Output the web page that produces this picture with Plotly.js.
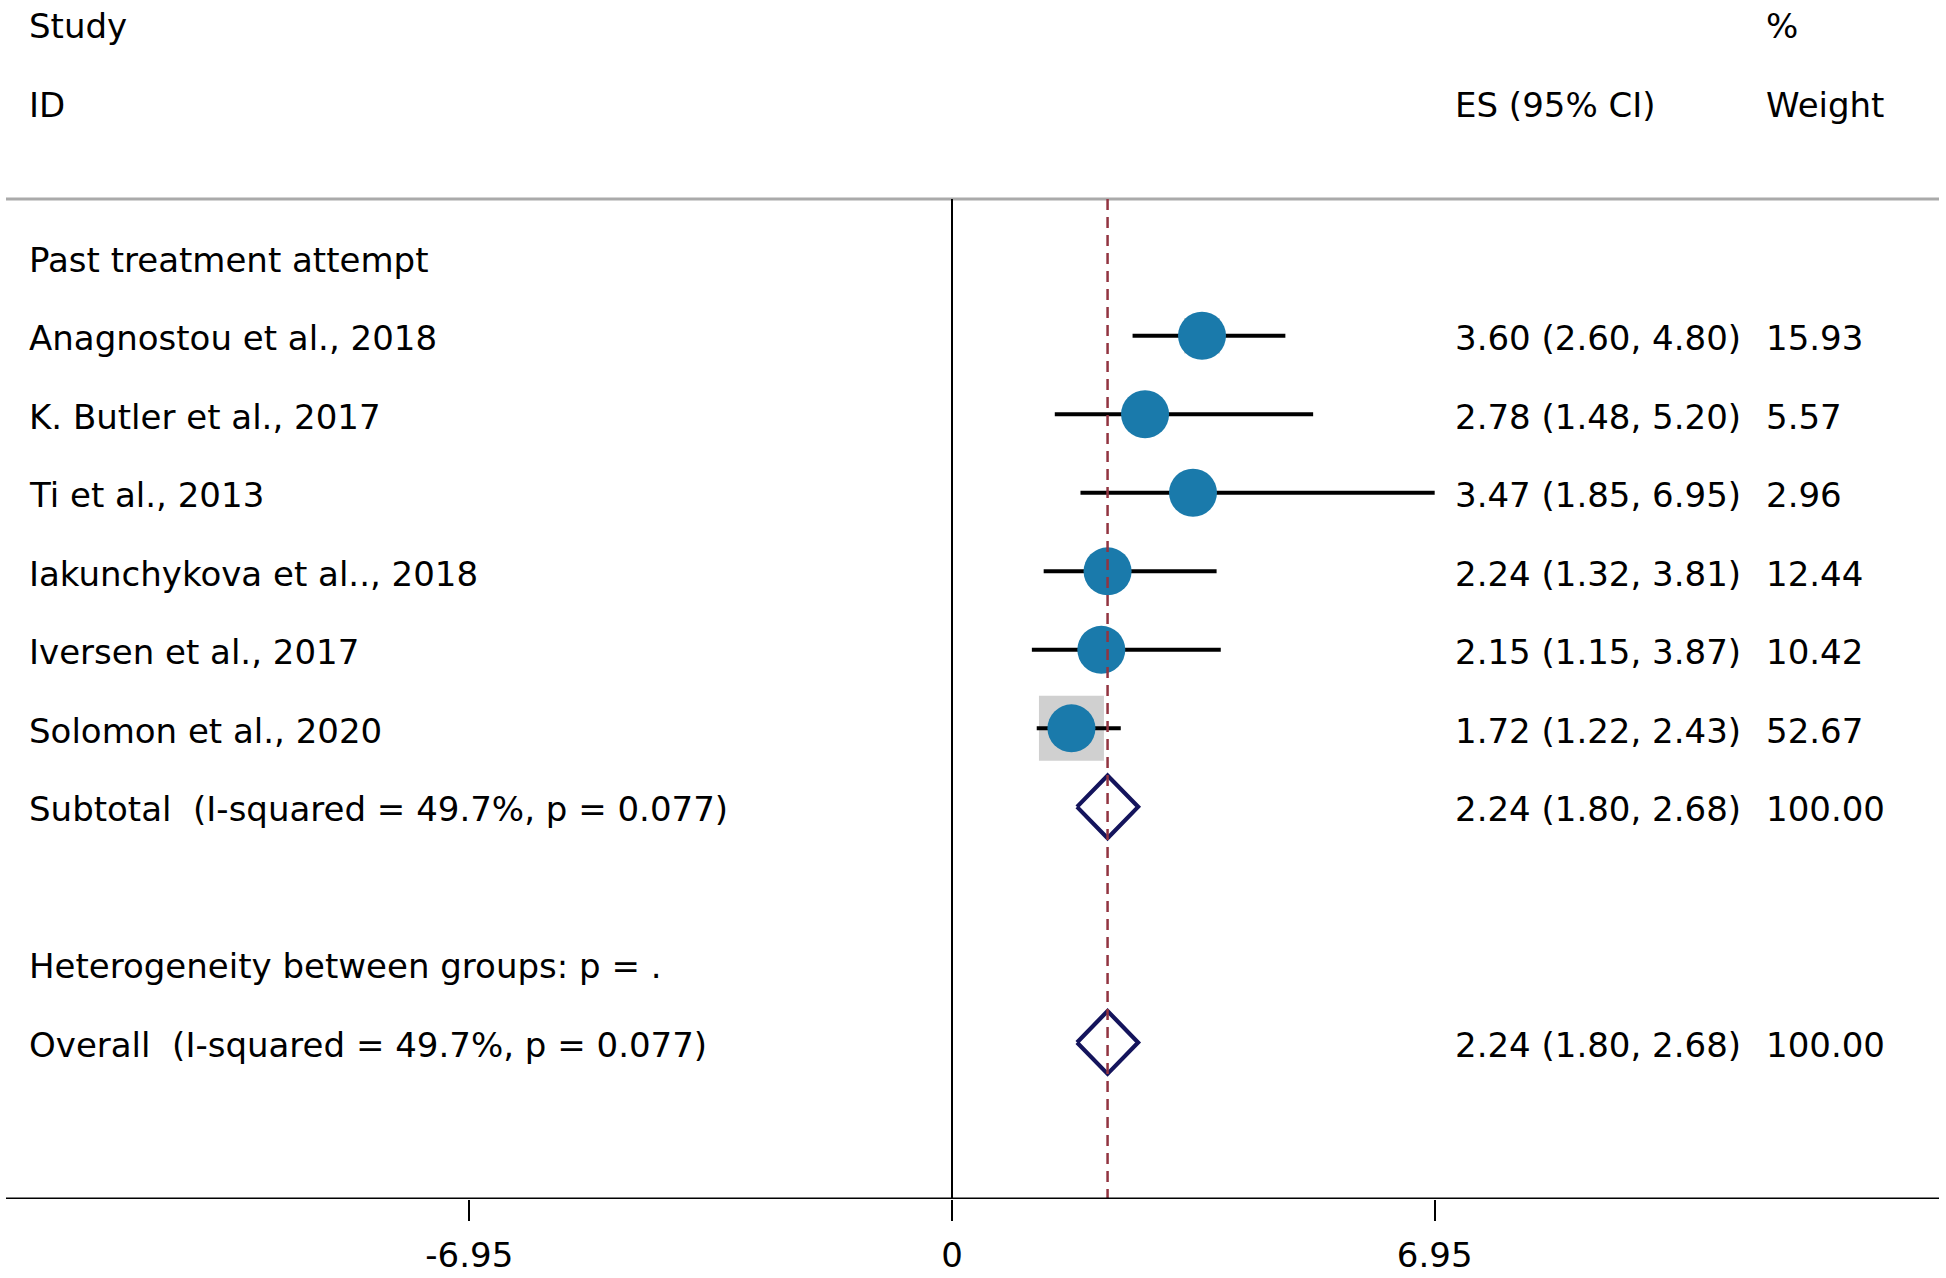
<!DOCTYPE html>
<html>
<head>
<meta charset="utf-8">
<script src="https://cdn.plot.ly/plotly-3.0.1.min.js"></script>
<style>html,body{margin:0;padding:0;background:#fff;}#chart{width:1946px;height:1278px;}</style>
</head>
<body>
<div id="chart"></div>
<script>
// ---- data ----
const groupLabel = "Past treatment attempt";
const studies = ["Anagnostou et al., 2018", "K. Butler et al., 2017", "Ti et al., 2013",
  "Iakunchykova et al.., 2018", "Iversen et al., 2017", "Solomon et al., 2020"];
const es = [3.60, 2.78, 3.47, 2.24, 2.15, 1.72];
const ciLow = [2.60, 1.48, 1.85, 1.32, 1.15, 1.22];
const ciHigh = [4.80, 5.20, 6.95, 3.81, 3.87, 2.43];
const weights = [15.93, 5.57, 2.96, 12.44, 10.42, 52.67];

const subtotalLabel = "Subtotal  (I-squared = 49.7%, p = 0.077)";
const subtotal = {es: 2.24, lo: 1.80, hi: 2.68, w: 100.00};
const hetLabel = "Heterogeneity between groups: p = .";
const overallLabel = "Overall  (I-squared = 49.7%, p = 0.077)";
const overall = {es: 2.24, lo: 1.80, hi: 2.68, w: 100.00};

const tickVals = [-6.95, 0, 6.95];
const tickText = ["-6.95", "0", "6.95"];

// ---- layout helpers ----
const FONT = "DejaVu Sans, Verdana, sans-serif";
const FS = 34;
const studyRows = studies.map((_, i) => i + 1);
const subRow = 7, hetRow = 9, overallRow = 10;
const topLineRow = -0.741, axisRow = 11.994;
const xColLeft = 27 / 1946, xColES = 1453 / 1946, xColW = 1763.5 / 1946;
const tOff = 0.03;
const fmt = v => v.toFixed(2);

const boxScale = 65 / Math.sqrt(Math.max(...weights));

const traces = [];
// weight boxes
traces.push({
  type: 'scatter', mode: 'markers', x: es, y: studyRows, hoverinfo: 'skip',
  marker: {symbol: 'square', color: '#bcbcbc', size: weights.map(w => boxScale * Math.sqrt(w)), line: {width: 0}}
});
// CI lines
traces.push({
  type: 'scatter', mode: 'markers', x: es, y: studyRows, hoverinfo: 'skip',
  marker: {opacity: 0, size: 1},
  error_x: {type: 'data', symmetric: false,
    array: es.map((v, i) => ciHigh[i] - v), arrayminus: es.map((v, i) => v - ciLow[i]),
    color: '#000', thickness: 4, width: 0}
});
// point estimates
traces.push({
  type: 'scatter', mode: 'markers', x: es, y: studyRows, hoverinfo: 'skip',
  marker: {symbol: 'circle', color: '#1a7aab', size: 48, line: {width: 0}}
});
// diamonds
const dh = 0.40;
function diamond(d, r) {
  return {x: [d.lo, d.es, d.hi, d.es, d.lo], y: [r, r - dh, r, r + dh, r]};
}
[[subtotal, subRow], [overall, overallRow]].forEach(([d, r]) => {
  const p = diamond(d, r);
  traces.push({type: 'scatter', mode: 'lines', x: p.x, y: p.y, hoverinfo: 'skip',
    line: {color: '#14145c', width: 4.2}});
});

// annotations
const ann = [];
function txt(x, y, t) {
  ann.push({xref: 'paper', yref: 'y', x: x, y: y + tOff, text: t, showarrow: false,
    xanchor: 'left', yanchor: 'middle', font: {family: FONT, size: FS, color: '#000'}});
}
txt(xColLeft, -2.98, "Study");
txt(xColLeft, -1.97, "ID");
txt(xColW, -2.98, "%");
txt(xColES, -1.97, "ES (95% CI)");
txt(xColW, -1.97, "Weight");
txt(xColLeft, 0, groupLabel);
studies.forEach((s, i) => {
  const r = studyRows[i];
  txt(xColLeft, r, s);
  txt(xColES, r, fmt(es[i]) + " (" + fmt(ciLow[i]) + ", " + fmt(ciHigh[i]) + ")");
  txt(xColW, r, fmt(weights[i]));
});
txt(xColLeft, subRow, subtotalLabel);
txt(xColES, subRow, fmt(subtotal.es) + " (" + fmt(subtotal.lo) + ", " + fmt(subtotal.hi) + ")");
txt(xColW, subRow, fmt(subtotal.w));
txt(xColLeft, hetRow, hetLabel);
txt(xColLeft, overallRow, overallLabel);
txt(xColES, overallRow, fmt(overall.es) + " (" + fmt(overall.lo) + ", " + fmt(overall.hi) + ")");
txt(xColW, overallRow, fmt(overall.w));

const shapes = [
  {type: 'line', xref: 'paper', yref: 'y', x0: 6 / 1946, x1: 1939 / 1946, y0: topLineRow, y1: topLineRow,
    line: {color: '#aaaaaa', width: 3}},
  {type: 'line', xref: 'x', yref: 'y', x0: 0, x1: 0, y0: topLineRow, y1: axisRow,
    line: {color: '#000', width: 2}},
  {type: 'line', xref: 'x', yref: 'y', x0: overall.es, x1: overall.es, y0: topLineRow, y1: axisRow,
    line: {color: '#923440', width: 2.5, dash: '11px,7px'}},
  {type: 'line', xref: 'paper', yref: 'y', x0: 6 / 1946, x1: 1939 / 1946, y0: axisRow, y1: axisRow,
    line: {color: '#000', width: 3}}
];

const pxPerUnit = 69.45, x0px = 952;
const layout = {
  width: 1946, height: 1278,
  margin: {l: 0, r: 0, t: 0, b: 79, pad: 0},
  paper_bgcolor: '#fff', plot_bgcolor: '#fff',
  showlegend: false,
  xaxis: {range: [-x0px / pxPerUnit, (1946 - x0px) / pxPerUnit], showgrid: false, zeroline: false,
    showline: false, tickvals: tickVals, ticktext: tickText, ticks: 'outside', ticklen: 21,
    tickwidth: 2, tickcolor: '#000', tickfont: {family: FONT, size: FS, color: '#000'},
    ticklabelstandoff: 5, automargin: false, fixedrange: true},
  yaxis: {range: [axisRow, -3.276], visible: false, showgrid: false, zeroline: false, fixedrange: true},
  shapes: shapes,
  annotations: ann
};

Plotly.newPlot('chart', traces, layout, {displayModeBar: false, staticPlot: true});
</script>
</body>
</html>
